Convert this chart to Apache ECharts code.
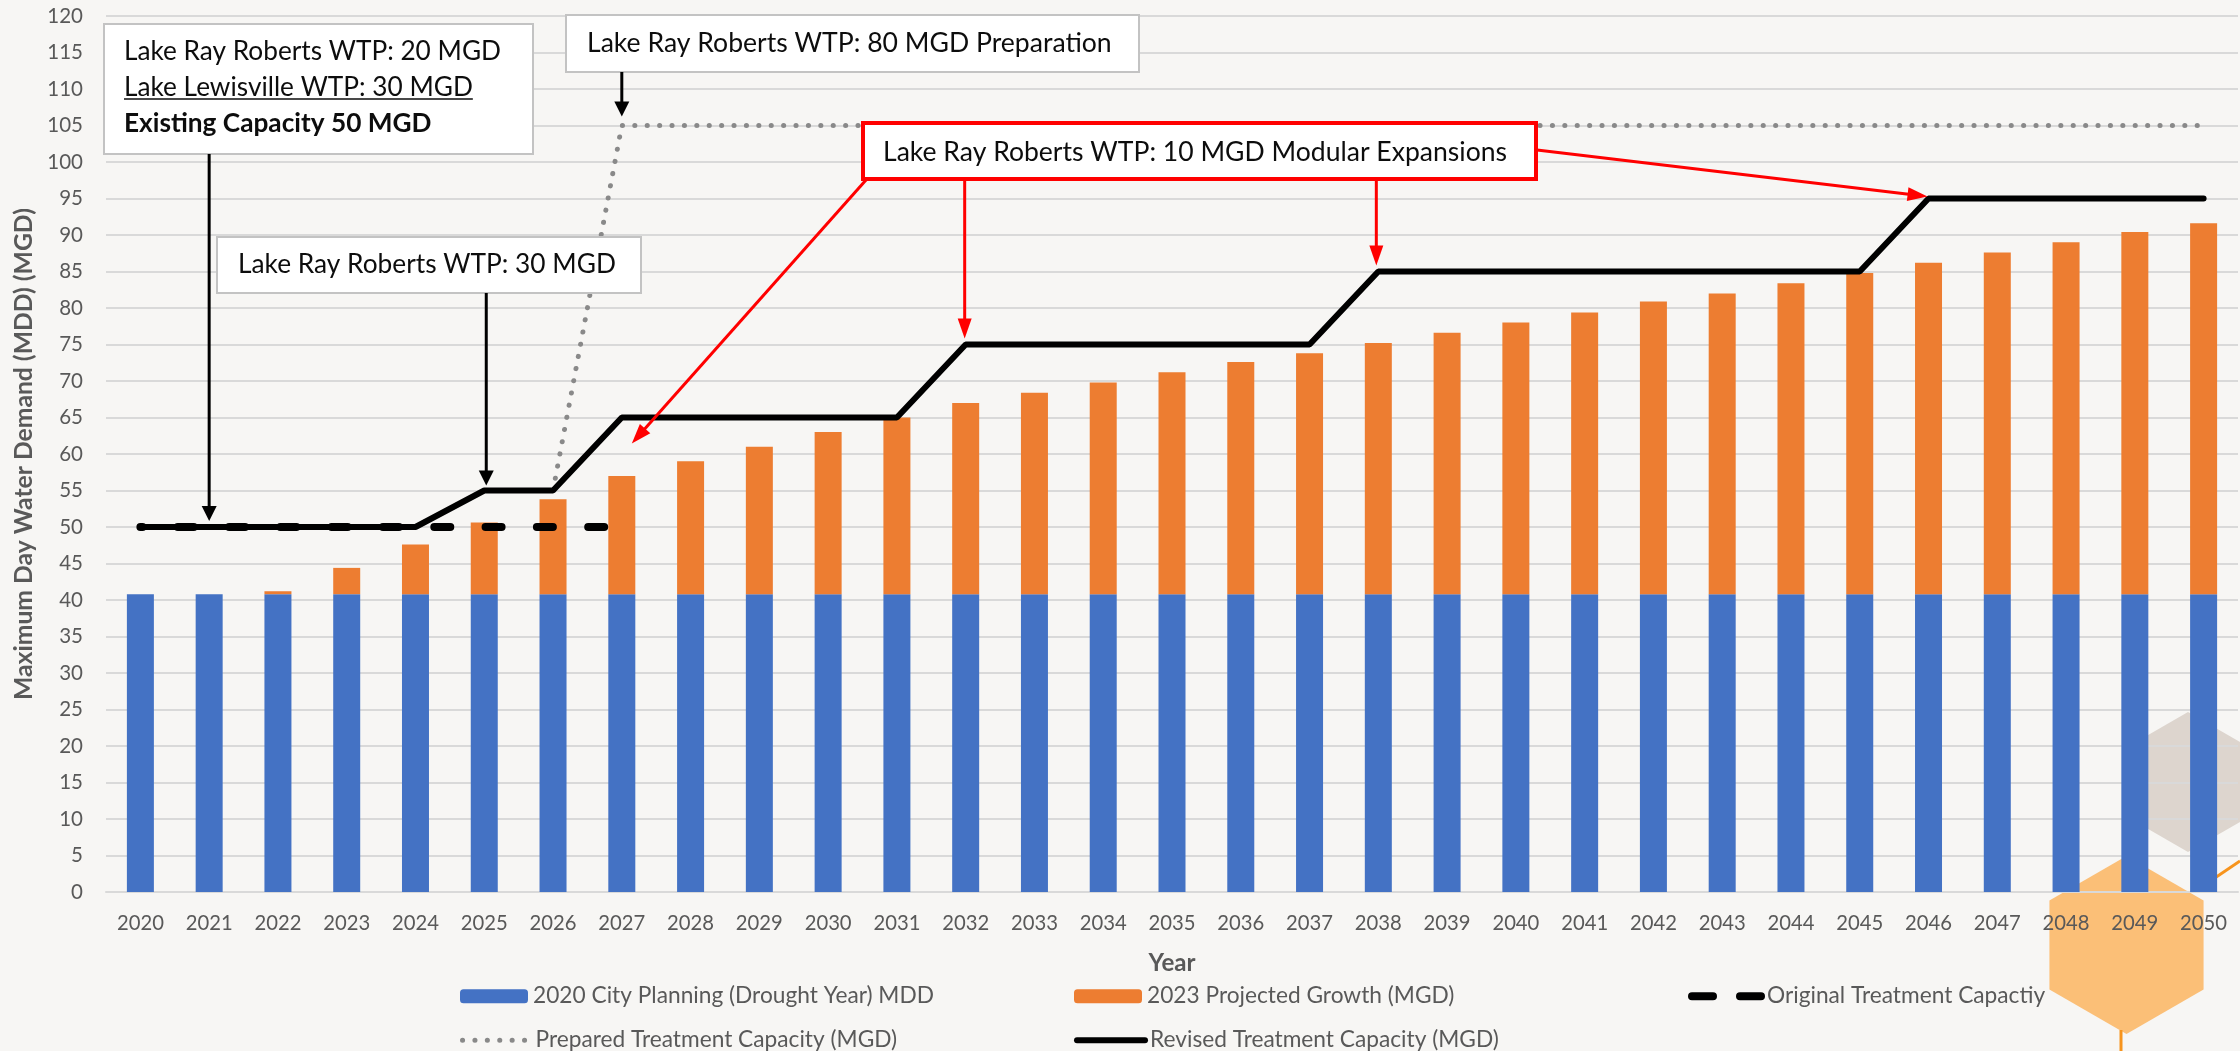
<!DOCTYPE html>
<html><head><meta charset="utf-8">
<script src="https://cdn.jsdelivr.net/npm/echarts@6.0.0/dist/echarts.min.js"></script>
<style>html,body{margin:0;padding:0;background:#f7f6f4}#chart{width:2240px;height:1051px}</style>
</head><body><div id="chart"></div>
<script>
// ---------------- data ----------------
const years = ['2020','2021','2022','2023','2024','2025','2026','2027','2028','2029','2030',
  '2031','2032','2033','2034','2035','2036','2037','2038','2039','2040',
  '2041','2042','2043','2044','2045','2046','2047','2048','2049','2050'];
const cityPlanningMDD = [40.8,40.8,40.8,40.8,40.8,40.8,40.8,40.8,40.8,40.8,40.8,
  40.8,40.8,40.8,40.8,40.8,40.8,40.8,40.8,40.8,40.8,
  40.8,40.8,40.8,40.8,40.8,40.8,40.8,40.8,40.8,40.8];
const projectedGrowth = [0,0,0.4,3.6,6.8,9.8,13.0,16.2,18.2,20.2,22.2,
  24.2,26.2,27.6,29.0,30.4,31.8,33.0,34.4,35.8,37.2,
  38.6,40.1,41.2,42.6,44.0,45.4,46.8,48.2,49.6,50.8];
const originalCapacity = [50,50,50,50,50,50,50,50,'-','-','-',
  '-','-','-','-','-','-','-','-','-','-',
  '-','-','-','-','-','-','-','-','-','-'];
const preparedCapacity = ['-','-','-','-','-','-',55,105,105,105,105,
  105,105,105,105,105,105,105,105,105,105,
  105,105,105,105,105,105,105,105,105,105];
const revisedCapacity = [50,50,50,50,50,55,55,65,65,65,65,
  65,75,75,75,75,75,75,85,85,85,
  85,85,85,85,85,95,95,95,95,95];
const seriesNames = ['2020 City Planning (Drought Year) MDD','2023 Projected Growth (MGD)',
  'Original Treatment Capactiy','Prepared Treatment Capacity (MGD)','Revised Treatment Capacity (MGD)'];

// ---------------- helpers ----------------
const FONT = 'Lato';
const mctx = document.createElement('canvas').getContext('2d');
function measure(text, size, weight){ mctx.font = (weight||'normal')+' '+size+'px '+FONT; return mctx.measureText(text).width; }
function fit(text, target, weight){ return +(100*target/measure(text,100,weight)).toFixed(2); }

const axisFs = fit('2020', 47);
const yLabFs = fit('120', 35.7);
const legendFs = fit('2020 City Planning (Drought Year) MDD', 401);
const yTitleFs = fit('Maximum Day Water Demand (MDD) (MGD)', 492, 'bold');
const xTitleFs = fit('Year', 47, 'bold');
const GRAY = '#595959';

const chart = echarts.init(document.getElementById('chart'));
const legendBase = {orient:'horizontal', padding:0, itemWidth:68, itemHeight:14, selectedMode:false,
  textStyle:{color:GRAY, fontSize:legendFs, fontFamily:FONT}};
const row1 = 996 - legendFs/2, row2 = 1040 - legendFs/2;

const option = {
  backgroundColor:'#f7f6f4',
  animation:false,
  grid:{left:106, right:2, top:16, bottom:159},
  xAxis:{type:'category', data:years,
    axisLine:{lineStyle:{color:'#d9d9d9', width:2}}, axisTick:{show:false},
    axisLabel:{color:GRAY, fontSize:axisFs, fontFamily:FONT, margin:21, interval:0},
    name:'Year', nameLocation:'middle', nameGap:59,
    nameTextStyle:{fontWeight:'bold', fontSize:xTitleFs, color:GRAY, fontFamily:FONT}},
  yAxis:{type:'value', min:0, max:120, interval:5,
    axisLine:{show:false}, axisTick:{show:false},
    splitLine:{lineStyle:{color:'#d9d9d9', width:2}},
    axisLabel:{color:GRAY, fontSize:yLabFs, fontFamily:FONT, margin:23},
    name:'Maximum Day Water Demand (MDD) (MGD)', nameLocation:'middle', nameGap:66,
    nameTextStyle:{fontWeight:'bold', fontSize:yTitleFs, color:GRAY, fontFamily:FONT}},
  legend:[
    Object.assign({}, legendBase, {left:460, top:row1, data:[seriesNames[0]]}),
    Object.assign({}, legendBase, {left:1074, top:row1, data:[seriesNames[1]]}),
    Object.assign({}, legendBase, {left:1688, top:row1, itemWidth:70, data:[seriesNames[2]],
      lineStyle:{width:8, type:[21,27], dashOffset:0, cap:'round'}, itemStyle:{opacity:0}}),
    Object.assign({}, legendBase, {left:460, top:row2, data:[seriesNames[3]], lineStyle:{width:5}, itemStyle:{opacity:0}}),
    Object.assign({}, legendBase, {left:1074, top:row2, data:[seriesNames[4]], lineStyle:{width:6}, itemStyle:{opacity:0}})
  ],
  series:[
    {name:seriesNames[0], type:'bar', stack:'demand', data:cityPlanningMDD, barWidth:27, itemStyle:{color:'#4472c4'}},
    {name:seriesNames[1], type:'bar', stack:'demand', data:projectedGrowth, barWidth:27, itemStyle:{color:'#ed7d31'}},
    {name:seriesNames[3], type:'line', data:preparedCapacity, symbol:'none', z:3,
      itemStyle:{color:'#898989'}, lineStyle:{color:'#898989', width:5, type:[0.1,12.3], cap:'round'}},
    {name:seriesNames[2], type:'line', data:originalCapacity, symbol:'none', z:4,
      itemStyle:{color:'#000'}, lineStyle:{color:'#000', width:8, type:[16,35.3], dashOffset:13.9, cap:'round'}},
    {name:seriesNames[4], type:'line', data:revisedCapacity, symbol:'none', z:5,
      itemStyle:{color:'#000'}, lineStyle:{color:'#000', width:6, cap:'round'}}
  ]
};
chart.setOption(option);

// ---------------- annotations ----------------
const P = (c, v) => chart.convertToPixel({gridIndex:0}, [c, v]);
const g = [];
function hex(cx, cy, R){ const pts=[]; for(let i=0;i<6;i++){ const a=Math.PI/180*(60*i-90); pts.push([cx+R*Math.cos(a), cy+R*Math.sin(a)]);} return pts; }
g.push({type:'polygon', z:-1, silent:true, shape:{points:hex(2188,782,70)}, style:{fill:'#ddd5ce'}});
g.push({type:'polygon', z:-1, silent:true, shape:{points:hex(2126.5,945,89)}, style:{fill:'#fbbf77'}});
g.push({type:'line', z:-1, silent:true, shape:{x1:2121,y1:1030,x2:2121,y2:1051}, style:{stroke:'#f7941d', lineWidth:3}});
g.push({type:'line', z:-1, silent:true, shape:{x1:2200,y1:888,x2:2240,y2:861}, style:{stroke:'#f7941d', lineWidth:3}});

function box(x,y,w,h,stroke,lw){ g.push({type:'rect', z:10, shape:{x:x,y:y,width:w,height:h}, style:{fill:'#ffffff', stroke:stroke, lineWidth:lw}}); }
function txt(s,x,y,fs,weight){ g.push({type:'text', z:11, style:{text:s, x:x, y:y, fontSize:fs, fontFamily:FONT, fontWeight:weight||'normal', fill:'#0d0d0d', align:'left', verticalAlign:'middle'}}); }
function arrow(x1,y1,x2,y2,color,w,hl,hw){
  const dx=x2-x1, dy=y2-y1, L=Math.hypot(dx,dy), ux=dx/L, uy=dy/L;
  const bx=x2-ux*hl, by=y2-uy*hl, px=-uy, py=ux;
  g.push({type:'line', z:12, shape:{x1:x1,y1:y1,x2:bx+ux*1,y2:by+uy*1}, style:{stroke:color, lineWidth:w}});
  g.push({type:'polygon', z:12, shape:{points:[[x2,y2],[bx+px*hw/2,by+py*hw/2],[bx-px*hw/2,by-py*hw/2]]}, style:{fill:color}});
}

// Box 1
const fs1 = fit('Lake Ray Roberts WTP: 20 MGD', 377);
box(104,24,429,130,'#c3c3c3',2);
txt('Lake Ray Roberts WTP: 20 MGD',124,52,fs1);
txt('Lake Lewisville WTP: 30 MGD',124,88,fs1);
const uw = measure('Lake Lewisville WTP: 30 MGD', fs1);
g.push({type:'line', z:11, shape:{x1:124,y1:99,x2:124+uw,y2:99}, style:{stroke:'#0d0d0d', lineWidth:1.5}});
txt('Existing Capacity 50 MGD',124,124,fs1,'bold');
let p = P('2021',50); arrow(p[0],154,p[0],p[1]-6,'#000',3,15,15);

// Box 2
const fs2 = fit('Lake Ray Roberts WTP: 30 MGD', 378);
box(217,237,424,56,'#c3c3c3',2);
txt('Lake Ray Roberts WTP: 30 MGD',238,265,fs2);
p = P('2025',55); arrow(p[0]+2,293,p[0]+2,p[1]-5,'#000',3,15,15);

// Box 3
const fs3 = fit('Lake Ray Roberts WTP: 80 MGD Preparation', 525);
box(566,15,573,57,'#c3c3c3',2);
txt('Lake Ray Roberts WTP: 80 MGD Preparation',587,43,fs3);
p = P('2027',105); arrow(p[0],72,p[0],p[1]-9,'#000',3,15,15);

// Red box
const fs4 = fit('Lake Ray Roberts WTP: 10 MGD Modular Expansions', 624);
p = P('2027',65); arrow(866,180,p[0]+10,p[1]+26,'#ff0000',3,20,14);
p = P('2032',75); arrow(p[0]-1,180,p[0]-1,p[1]-6,'#ff0000',3,20,14);
p = P('2038',85); arrow(p[0]-2,180,p[0]-2,p[1]-6,'#ff0000',3,20,14);
p = P('2046',95); arrow(1537,150,p[0]-1,p[1]-2,'#ff0000',3,20,14);
box(863,123,673,56,'#ff0000',4);
txt('Lake Ray Roberts WTP: 10 MGD Modular Expansions',883,152,fs4);

chart.setOption({graphic:{elements:g}});
</script></body></html>
